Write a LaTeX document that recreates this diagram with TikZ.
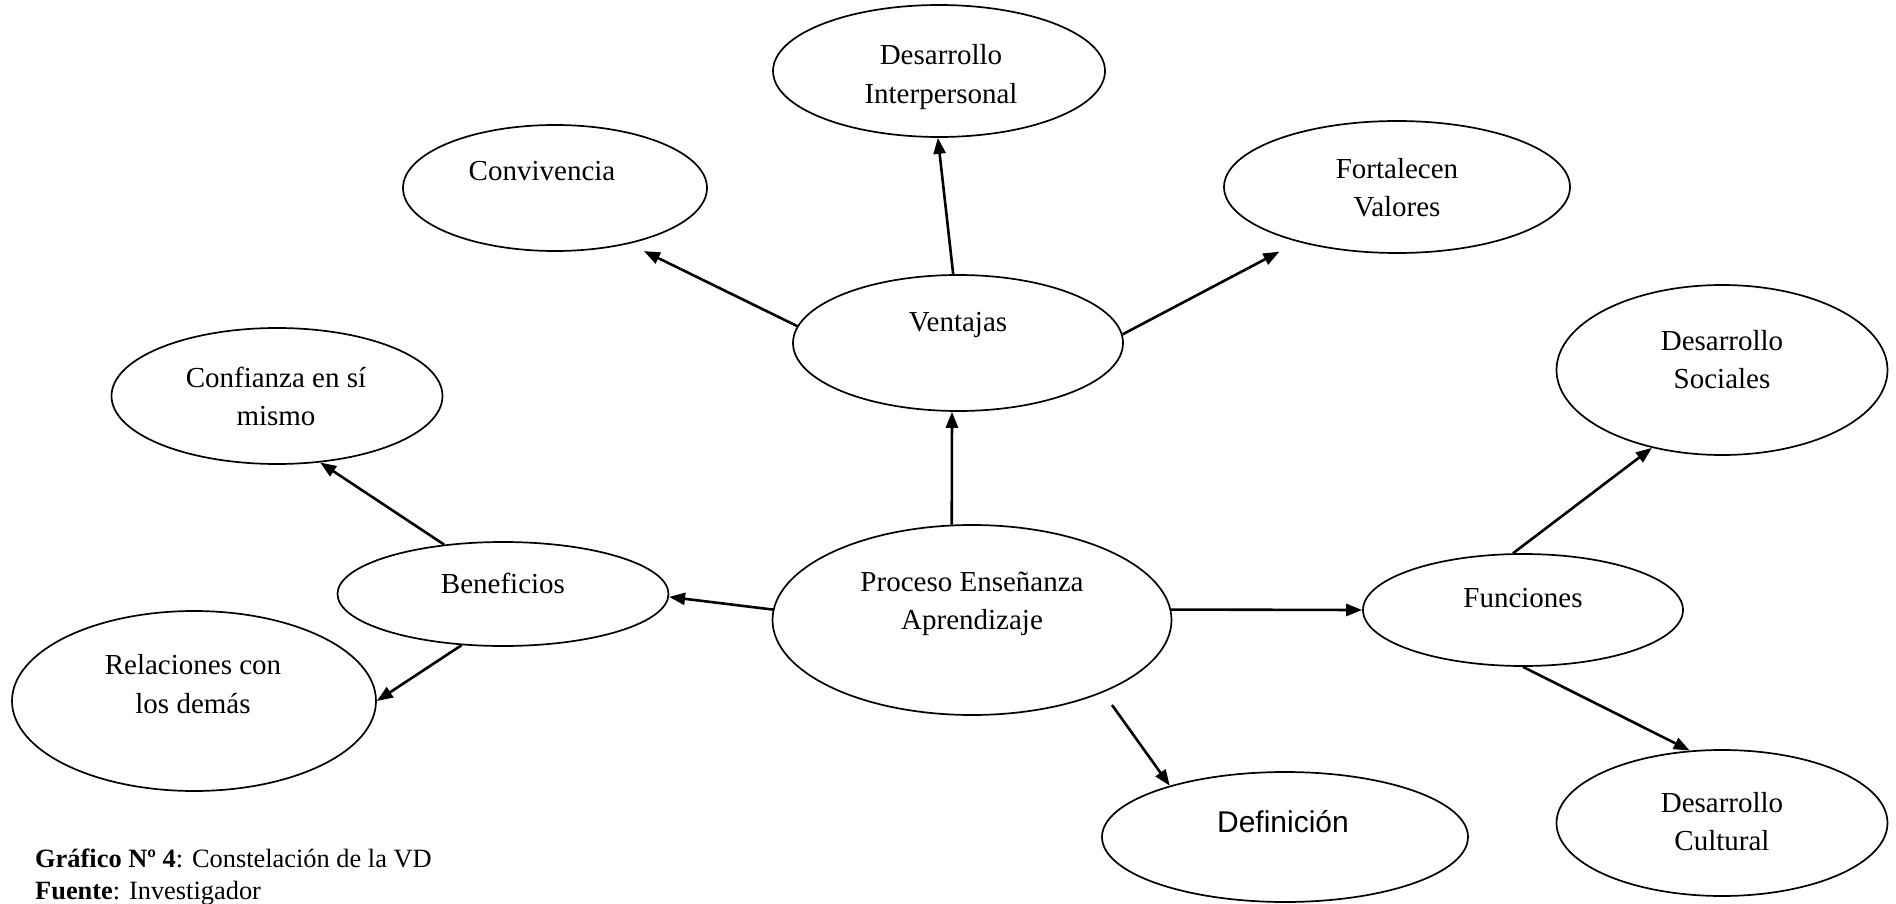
\documentclass[tikz,border=0pt]{standalone}
\usepackage{fontspec}
\setmainfont{Liberation Serif}
\newfontfamily\arialf{Liberation Sans}
\usetikzlibrary{shapes.geometric,arrows.meta}
\begin{document}
\begin{tikzpicture}[x=1pt,y=1pt,
  ell/.style={draw,ellipse,line width=1.7pt,inner sep=0pt},
  txt/.style={anchor=base,inner sep=0pt,font=\fontsize{29}{38}\selectfont},
  captxt/.style={anchor=base west,inner sep=0pt,font=\fontsize{26.4}{30}\selectfont},
  arr/.style={line width=2.6pt,-{Triangle[length=16pt,width=12pt]}}]
\useasboundingbox (0,0) rectangle (1896,-904);
% ellipses
\node[ell,minimum width=332pt,minimum height=132pt] (di) at (939,-71) {};
\node[ell,minimum width=304pt,minimum height=126pt] (conv) at (555,-188) {};
\node[ell,minimum width=346pt,minimum height=132pt] (fv) at (1397,-187) {};
\node[ell,minimum width=330pt,minimum height=136pt] (ven) at (958,-343) {};
\node[ell,minimum width=331pt,minimum height=136pt] (conf) at (277,-396) {};
\node[ell,minimum width=331pt,minimum height=170pt] (ds) at (1722,-370) {};
\node[ell,minimum width=331pt,minimum height=104pt] (ben) at (503,-594) {};
\node[ell,minimum width=399pt,minimum height=190pt] (pea) at (972,-620) {};
\node[ell,minimum width=320pt,minimum height=112pt] (fun) at (1523,-610) {};
\node[ell,minimum width=364pt,minimum height=180pt] (rel) at (194,-701) {};
\node[ell,minimum width=366pt,minimum height=130pt] (def) at (1285,-837) {};
\node[ell,minimum width=331pt,minimum height=146pt] (dc) at (1722,-823) {};
% texts
\node[txt] (di1) at (941,-65) {Desarrollo};
\node[txt] (di2) at (941,-104) {Interpersonal};
\node[txt] (conv1) at (542,-181) {Convivencia};
\node[txt] (fv1) at (1397,-179) {Fortalecen};
\node[txt] (fv2) at (1397,-217) {Valores};
\node[txt] (ven1) at (958,-331) {Ventajas};
\node[txt] (conf1) at (276,-387) {Confianza en sí};
\node[txt] (conf2) at (276,-425) {mismo};
\node[txt] (ds1) at (1722,-350) {Desarrollo};
\node[txt] (ds2) at (1722,-388) {Sociales};
\node[txt] (ben1) at (503,-593) {Beneficios};
\node[txt] (pea1) at (972,-591) {Proceso Enseñanza};
\node[txt] (pea2) at (972,-629) {Aprendizaje};
\node[txt] (fun1) at (1523,-607) {Funciones};
\node[txt] (rel1) at (193,-674) {Relaciones con};
\node[txt] (rel2) at (193,-713) {los demás};
\node[anchor=base,inner sep=0pt,font=\arialf\fontsize{30}{36}\selectfont] (def1) at (1283,-832) {Definición};
\node[txt] (dc1) at (1722,-812) {Desarrollo};
\node[txt] (dc2) at (1722,-850) {Cultural};
% caption
\node[captxt] (cap1) at (35,-867) {\textbf{Gráfico Nº 4}: Constelación de la VD};
\node[captxt] (cap2) at (35,-899) {\textbf{Fuente}: Investigador};
% connectors
\draw[arr] (ven.94.9) -- (di.269);
\draw[arr,shorten >=16.5pt] (ven.174.8) -- (conv.-37.5);
\draw[arr,shorten >=21pt] (ven.3.5) -- (fv.209.1);
\draw[arr] (pea.102) -- (ven.265);
\draw[arr] (pea.177.4) -- (ben.-1);
\draw[arr] (ben.140) -- (conf.-57.7);
\draw[arr] (ben.231.7) -- (rel.0.6);
\draw[arr] (pea.3.7) -- (fun.180);
\draw[arr] (fun.100) -- (ds.228.2);
\draw[arr] (fun.270) -- (dc.114.3);
\coordinate (defstart) at (1112,-705);
\draw[arr] (defstart) -- (def.156.9);
\end{tikzpicture}
\end{document}
